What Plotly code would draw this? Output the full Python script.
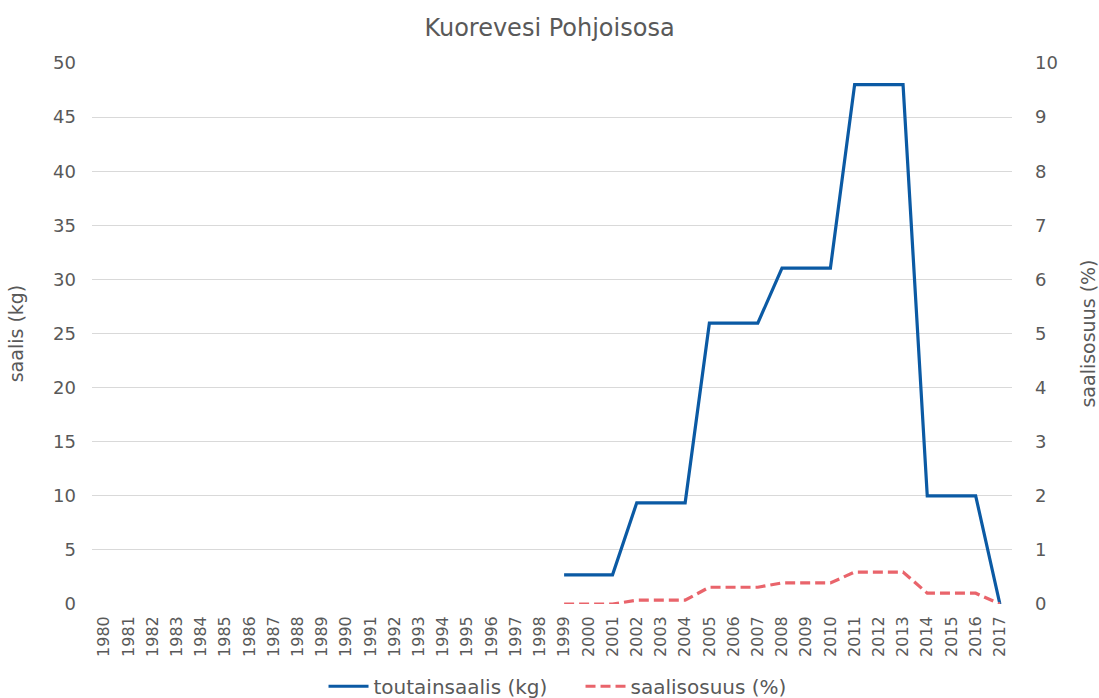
import plotly.graph_objects as go

years = [str(y) for y in range(1980, 2018)]
saalis_kg = [None] * 19 + [2.7, 2.7, 2.7, 9.35, 9.35, 9.35, 25.95, 25.95, 25.95,
                           31.05, 31.05, 31.05, 48.0, 48.0, 48.0, 10.0, 10.0, 10.0, 0.0]
saalisosuus = [None] * 19 + [0.0, 0.0, 0.0, 0.07, 0.07, 0.07, 0.31, 0.31, 0.31,
                             0.39, 0.39, 0.39, 0.59, 0.59, 0.59, 0.2, 0.2, 0.2, 0.0]

left_ticks = list(range(0, 51, 5))
right_ticks = list(range(0, 11, 1))

FONT = "DejaVu Sans"
GREY = "#595959"
BLUE = "#0B5AA4"
RED = "#E9646B"

fig = go.Figure()
fig.add_trace(go.Scatter(x=years, y=saalis_kg, mode="lines", name="toutainsaalis (kg)",
                         line=dict(color=BLUE, width=3.2), yaxis="y"))
fig.add_trace(go.Scatter(x=years, y=saalisosuus, mode="lines", name="saalisosuus (%)",
                         line=dict(color=RED, width=3.2, dash="10px,5px"), yaxis="y2"))

fig.update_layout(
    width=1099, height=698,
    margin=dict(l=92, r=87, t=63, b=94, autoexpand=False),
    paper_bgcolor="white", plot_bgcolor="white",
    font=dict(family=FONT, color=GREY, size=18),
    title=dict(text="Kuorevesi Pohjoisosa", x=0.5, xanchor="center", y=0.96, yanchor="middle",
               font=dict(size=24, color=GREY, family=FONT)),
    xaxis=dict(type="category", range=[-0.5, 37.5], tickangle=-90, automargin=False,
               tickfont=dict(size=16, color=GREY), showgrid=False, showline=False,
               ticks="", ticklabelstandoff=8),
    yaxis=dict(range=[0, 50], tickvals=left_ticks, showgrid=True, gridcolor="#D9D9D9",
               gridwidth=1, zeroline=False, showline=False, ticks="", automargin=False,
               tickfont=dict(size=18, color=GREY), ticklabelstandoff=15,
               title=dict(text="saalis (kg)", font=dict(size=19, color=GREY), standoff=24)),
    yaxis2=dict(range=[0, 10], tickvals=right_ticks, overlaying="y", side="right",
                showgrid=False, zeroline=False, showline=False, ticks="", automargin=False,
                tickfont=dict(size=18, color=GREY), ticklabelstandoff=22,
                title=dict(text="saalisosuus (%)", font=dict(size=19, color=GREY), standoff=26)),
    legend=dict(orientation="h", x=0.531, xanchor="center", y=-0.116, yanchor="top",
                font=dict(size=20, color=GREY), itemwidth=40, tracegroupgap=0,
                entrywidth=202, entrywidthmode="pixels"),
    showlegend=True,
)

fig.write_html("out.html", post_script="document.body.style.margin='0';",
               config={"displayModeBar": False})
